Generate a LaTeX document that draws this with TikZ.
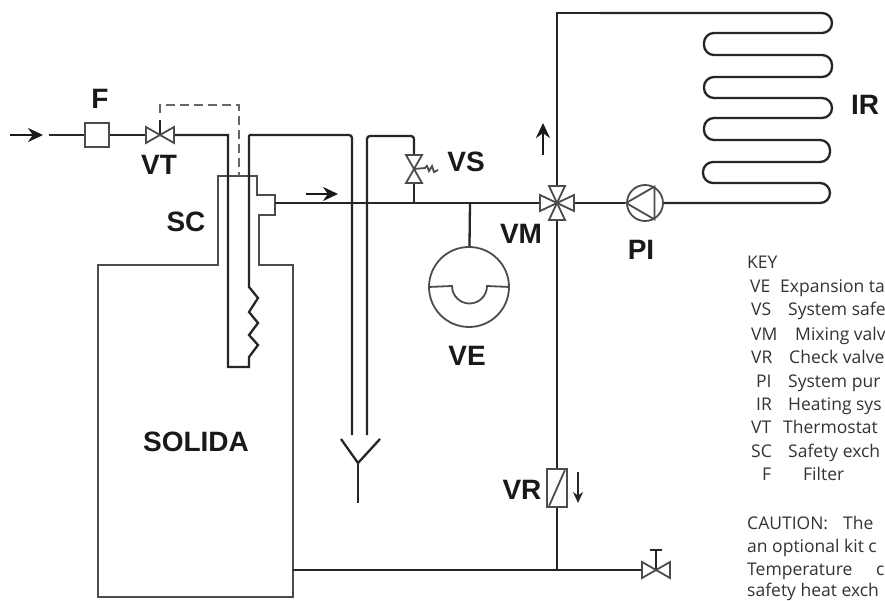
\documentclass[tikz,border=0pt]{standalone}
\usepackage{fontspec}
\setmainfont{Open Sans}
\newfontfamily\labelfont{Liberation Sans}
\usetikzlibrary{arrows.meta,positioning,calc}
\tikzset{>={Stealth[width=14pt,length=15pt]}}
\tikzset{pipe/.style={draw=black!85, line width=2.3pt}}
\tikzset{flow/.style={draw=black!90, line width=2.8pt}}
\tikzset{thinpipe/.style={draw=black!70, line width=1.8pt}}
\tikzset{part/.style={draw=black!70, line width=1.8pt, fill=white, inner sep=0pt}}
\tikzset{tag/.style={font=\labelfont\bfseries\fontsize{28}{30}\selectfont, text=black!90, inner sep=0pt}}
\tikzset{keytxt/.style={font=\fontsize{17.5}{20}\selectfont, text=black!80, anchor=base west, inner sep=0pt}}
\tikzset{bowtie/.pic={\draw[part] (-14,-8) -- (14,8) -- (14,-8) -- (-14,8) -- cycle;}}
\tikzset{cross/.pic={\foreach \a in {0,90,180,270}
    \draw[part, rotate=\a] (0,0) -- (17,-8) -- (17,8) -- cycle;}}

\begin{document}
\begin{tikzpicture}[x=1pt, y=-1pt]
    \useasboundingbox[fill=white] (0,0) rectangle (885,601);

    \coordinate(inA) at (10,135);
    \coordinate(inB) at (43,135);
    \coordinate(inC) at (49,135);
    \coordinate(tubeL) at (228,135);
    \coordinate(tubeR) at (249,135);
    \coordinate(zig) at (249,287);
    \coordinate(tubeBL) at (228,367);
    \coordinate(tubeBR) at (249,367);
    \coordinate(drainL) at (352,435);
    \coordinate(drainR) at (367,435);
    \coordinate(yjoin) at (358,463);
    \coordinate(vmc) at (557,203);
    \coordinate(vec) at (470,203);
    \coordinate(vsc) at (414,169);
    \coordinate(vtc) at (160,135);
    \coordinate(tapc) at (656,570);
    \coordinate(joint) at (557,570);
    \coordinate(coilA) at (600,13);

    % boiler and safety exchanger body
    \draw[thinpipe] (98,265) -- (218,265) -- (218,176) -- (257,176) -- (257,195) -- (275,195)
        -- (275,215) -- (259,215) -- (259,265) -- (293,265) -- (293,597) -- (98,597) -- cycle;
    \node(solida)[tag] at (196,442) {SOLIDA};

    \node(filt)[part, minimum size=24pt] at (97,135) {};
    \node(pump)[part, circle, minimum size=36pt] at (645,203) {};
    \node(tank)[part, circle, minimum size=80pt] at (469,287) {};
    \node(check)[part, minimum width=20pt, minimum height=38pt] at (557,488) {};

    % pipes
    \draw[pipe] (inC) -- (filt);
    \draw[pipe] (filt) -- (vtc);
    \draw[pipe] (vtc) -- (tubeL) -- (tubeBL) -- (tubeBR) -- (249,357) -- (258,345) -- (249,335) -- (258,323)
        -- (249,312) -- (258,298) -- (zig) -- (tubeR);
    \draw[pipe, rounded corners=3pt] (tubeR) -- (352,135) -- (drainL);
    \draw[pipe, rounded corners=3pt] (drainR) -- (367,136) -- (414,136) -- (vsc);
    \draw[pipe] (275,203) -- (vmc);
    \draw[pipe] (vsc) -- (414,203);
    \draw[pipe] (vec) -- (tank);
    \draw[pipe] (vmc) -- (pump);
    \draw[pipe] (vmc) |- (coilA);
    \draw[pipe, rounded corners=10pt] (coilA) -- (832,13) -- (832,33) -- (704,33) -- (704,55) -- (832,55)
        -- (832,77) -- (704,77) -- (704,98) -- (832,98) -- (832,118) -- (704,118) -- (704,140)
        -- (830,140) -- (830,162) -- (703,162) -- (703,183) -- (830,183) -- (830,203) -- (pump.east);
    \draw[pipe] (vmc) -- (check);
    \draw[pipe] (check) -- (joint);
    \draw[pipe] (293,570) -- (tapc);
    \draw[pipe] (341,439) -- (yjoin) -- (380,439);
    \draw[pipe] (yjoin) -- (358,503);
    \draw[pipe] (tapc) -- (656,550);
    \draw[pipe] (650,550) -- (662,550);
    \draw[pipe] (vtc) -- (160,120);
    \draw[pipe, draw=black!60, dashed, dash pattern=on 9pt off 5pt] (160,113) |- (239,105) -- (239,176);

    % valves
    \pic at (vtc) {bowtie};
    \pic at (tapc) {bowtie};
    \pic[rotate=90] at (vsc) {bowtie};
    \pic at (vmc) {cross};
    \draw[thinpipe] (pump.west) -- (pump.60) -- (pump.-60) -- cycle;
    \draw[thinpipe] ($(check.south west)+(3,-2)$) -- ($(check.north east)+(-3,2)$);
    \draw[thinpipe] (tank.west) -- (452,286) arc[start angle=180, end angle=360, radius=17.5pt] -- (tank.east);
    \draw[thinpipe] (vsc) -- (425,168) -- (427,166) -- (429,171) -- (432,166) -- (434,172) -- (438,170);

    % flow arrows
    \draw[->, flow] (inA) -- (inB);
    \draw[->, flow] (306,194) -- (338,194);
    \draw[->, flow] (543,155) -- (543,123);
    \draw[->, pipe, >={Stealth[width=10pt,length=11pt]}] (578,472) -- (578,503);

    \node(lblF)[tag] at (100,99) {F};
    \node(lblVT)[tag] at (159,165) {VT};
    \node(lblSC)[tag] at (186,222) {SC};
    \node(lblVS)[tag] at (466,162) {VS};
    \node(lblVM)[tag] at (521,234) {VM};
    \node(lblVE)[tag] at (467,356) {VE};
    \node(lblPI)[tag] at (641,250) {PI};
    \node(lblIR)[tag] at (865,105) {IR};
    \node(lblVR)[tag] at (522,490) {VR};

    \node(keyhead)[keytxt] at (747,269) {KEY};
    \node(k1a)[keytxt] at (750,293) {VE};   \node(k1b)[keytxt] at (780,293) {Expansion ta};
    \node(k2a)[keytxt] at (751,316) {VS};   \node(k2b)[keytxt] at (788,316) {System safe};
    \node(k3a)[keytxt] at (751,340) {VM};   \node(k3b)[keytxt] at (795,340) {Mixing valv};
    \node(k4a)[keytxt] at (751,363) {VR};   \node(k4b)[keytxt] at (789,363) {Check valve};
    \node(k5a)[keytxt] at (756,387) {PI};   \node(k5b)[keytxt] at (788,387) {System pur};
    \node(k6a)[keytxt] at (756,410) {IR};   \node(k6b)[keytxt] at (788,410) {Heating sys};
    \node(k7a)[keytxt] at (751,433) {VT};   \node(k7b)[keytxt] at (783,433) {Thermostat};
    \node(k8a)[keytxt] at (751,457) {SC};   \node(k8b)[keytxt] at (788,457) {Safety exch};
    \node(k9a)[keytxt] at (762,480) {F};    \node(k9b)[keytxt] at (803,480) {Filter};
    \node(note1)[keytxt] at (747,529) {CAUTION:};
    \node(note1b)[keytxt] at (843,529) {The};
    \node(note2)[keytxt] at (747,552) {an optional kit c};
    \node(note3)[keytxt] at (747,575) {Temperature};
    \node(note3b)[keytxt] at (876,575) {c};
    \node(note4)[keytxt] at (747,596) {safety heat exch};
\end{tikzpicture}
\end{document}
